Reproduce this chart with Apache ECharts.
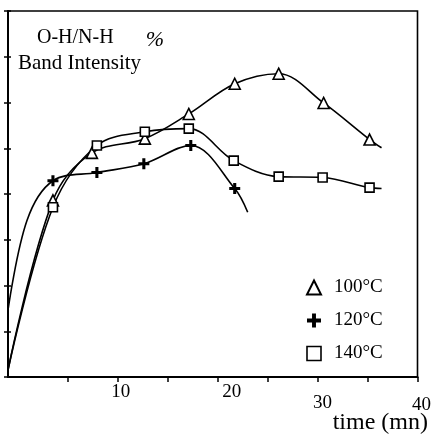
<!DOCTYPE html>
<html>
<head>
<meta charset="UTF-8">
<title>O-H/N-H Band Intensity</title>
<script src="https://cdn.jsdelivr.net/npm/echarts@6/dist/echarts.min.js"></script>
<style type="text/css">
	body {
		margin: 0;
		padding: 0;
		background: #fff;
	}
	#main {
		width: 434px;
		height: 435px;
	}
</style>
</head>
<body>
<div id="main"></div>
<script>
	// time (mn) and band intensity; first/last items are curve ends (no marker)
	var t100 = [-1.0, 3.5, 7.4, 12.7, 17.1, 21.7, 26.1, 30.6, 35.2, 36.4];
	var v100 = [0.15, 3.86, 4.90, 5.21, 5.75, 6.41, 6.63, 5.99, 5.19, 5.01];
	var m100 = [0, 1, 1, 1, 1, 1, 1, 1, 1, 0];

	var t120 = [-1.0, 0.9, 3.5, 7.9, 12.6, 17.3, 21.7, 23.0];
	var v120 = [1.46, 3.42, 4.29, 4.47, 4.66, 5.06, 4.12, 3.60];
	var m120 = [0, 0, 1, 1, 1, 1, 1, 0];

	var t140 = [-1.0, 3.5, 7.9, 12.7, 17.1, 21.6, 26.1, 30.5, 35.2, 36.4];
	var v140 = [0.15, 3.71, 5.06, 5.36, 5.43, 4.73, 4.38, 4.36, 4.14, 4.12];
	var m140 = [0, 1, 1, 1, 1, 1, 1, 1, 1, 0];

	var seriesNames = ['100°C', '120°C', '140°C'];
	var xTicks = [5, 10, 15, 20, 25, 30, 35, 40];
	var xLabels = [10, 20, 30, 40];

	var serif = '"Liberation Serif", "DejaVu Serif", serif';
	var plusPath = 'path://M3.6,0H6.4V3.6H10V6.4H6.4V10H3.6V6.4H0V3.6H3.6Z';

	function pts(ts, vs, ms) {
		return ts.map(function(t, i) {
			var item = { value: [t, vs[i]] };
			if (!ms[i]) item.symbol = 'none';
			return item;
		});
	}

	function lineSeries(name, data, symbol, size, fill) {
		return {
			name: name,
			type: 'line',
			data: data,
			smooth: 0.35,
			symbol: symbol,
			symbolSize: size,
			showAllSymbol: true,
			lineStyle: { color: '#000', width: 1.6 },
			itemStyle: { color: fill, borderColor: '#000', borderWidth: fill === '#000' ? 0 : 1.6 },
			emphasis: { disabled: true },
			z: 3
		};
	}

	var chart = echarts.init(document.getElementById('main'));

	var labelRich = {
		l10: { fontFamily: serif, fontSize: 19, color: '#000', padding: [0, 0, 0, 6] },
		l20: { fontFamily: serif, fontSize: 19, color: '#000', padding: [0, 0, 0, 28] },
		l30: { fontFamily: serif, fontSize: 19, color: '#000', padding: [11, 0, 0, 10] },
		l40: { fontFamily: serif, fontSize: 19, color: '#000', padding: [13, 0, 0, 8] }
	};

	chart.setOption({
		animation: false,
		backgroundColor: '#fff',
		grid: {
			left: 8,
			right: 13,
			top: 11,
			bottom: 58,
			show: true,
			borderColor: '#000',
			borderWidth: 1.6
		},
		xAxis: {
			type: 'value',
			min: -1,
			max: 40,
			axisLine: { lineStyle: { color: '#000', width: 2 } },
			axisTick: { customValues: xTicks, length: 5, lineStyle: { color: '#000', width: 1.5 } },
			axisLabel: {
				customValues: xLabels,
				margin: 6,
				formatter: function(v) { return '{l' + v + '|' + v + '}'; },
				rich: labelRich
			},
			splitLine: { show: false }
		},
		yAxis: [{
			type: 'value',
			min: 0,
			max: 8,
			interval: 1,
			axisLine: { show: true, onZero: false, lineStyle: { color: '#000', width: 2 } },
			axisTick: { show: true, length: 4, lineStyle: { color: '#000', width: 1.5 } },
			axisLabel: { show: false },
			splitLine: { show: false }
		}, {
			type: 'value',
			position: 'left',
			min: 0,
			max: 8,
			interval: 1,
			axisLine: { show: false, onZero: false },
			axisTick: { show: true, inside: true, length: 3, lineStyle: { color: '#000', width: 1.5 } },
			axisLabel: { show: false },
			splitLine: { show: false }
		}],
		legend: {
			orient: 'vertical',
			left: 301,
			top: 273,
			itemWidth: 14,
			itemHeight: 14,
			itemGap: 14,
			selectedMode: false,
			textStyle: { fontFamily: serif, fontSize: 19, color: '#000', padding: [0, 0, 0, 8] },
			data: [
				{ name: seriesNames[0], icon: 'triangle', itemStyle: { color: '#fff', borderColor: '#000', borderWidth: 2 } },
				{ name: seriesNames[1], icon: plusPath, itemStyle: { color: '#000', borderWidth: 0 } },
				{ name: seriesNames[2], icon: 'rect', itemStyle: { color: '#fff', borderColor: '#000', borderWidth: 1.6 } }
			]
		},
		graphic: [
			{ type: 'text', x: 37, y: 38, style: { text: 'O-H/N-H', font: '20px ' + serif, fill: '#000', verticalAlign: 'middle' } },
			{ type: 'text', x: 155, y: 40, style: { text: '%', font: 'italic 22px ' + serif, fill: '#000', align: 'center', verticalAlign: 'middle' } },
			{ type: 'text', x: 18, y: 63, style: { text: 'Band Intensity', font: '21px ' + serif, fill: '#000', verticalAlign: 'middle' } },
			{ type: 'text', x: 428, y: 423, style: { text: 'time (mn)', font: '24px ' + serif, fill: '#000', align: 'right', verticalAlign: 'middle' } }
		],
		series: [
			lineSeries(seriesNames[0], pts(t100, v100, m100), 'triangle', 11, '#fff'),
			lineSeries(seriesNames[1], pts(t120, v120, m120), plusPath, 11, '#000'),
			lineSeries(seriesNames[2], pts(t140, v140, m140), 'rect', 9, '#fff')
		]
	});
</script>
</body>
</html>
